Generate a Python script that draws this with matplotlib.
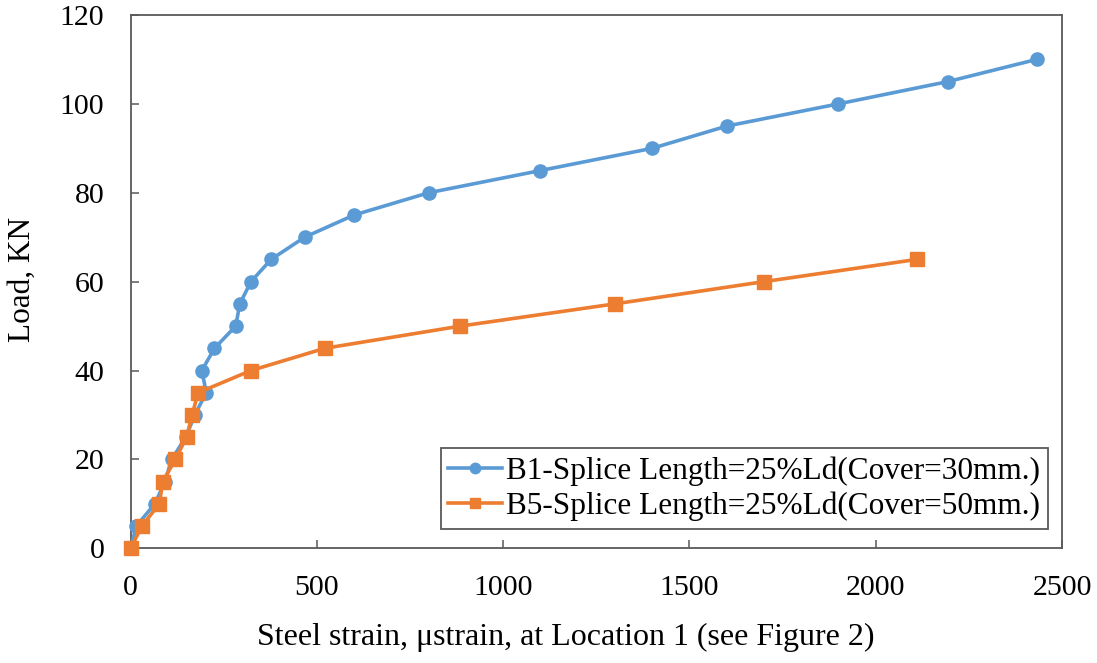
import matplotlib
matplotlib.use("Agg")
import matplotlib.pyplot as plt

plt.rcParams["font.family"] = ["Liberation Serif", "DejaVu Serif"]

# B1 - splice length 25% Ld, cover 30 mm
b1_strain = [0, 15, 65, 92, 110, 148, 172, 203, 191, 225, 282, 293, 323, 377, 467,
             600, 800, 1100, 1400, 1600, 1900, 2193, 2432]
b1_load = [0, 5, 10, 15, 20, 25, 30, 35, 40, 45, 50, 55, 60, 65, 70,
           75, 80, 85, 90, 95, 100, 105, 110]

# B5 - splice length 25% Ld, cover 50 mm
b5_strain = [0, 30, 77, 86, 120, 150, 165, 181, 323, 521, 885, 1300, 1700, 2110]
b5_load = [0, 5, 10, 15, 20, 25, 30, 35, 40, 45, 50, 55, 60, 65]

xticks = [0, 500, 1000, 1500, 2000, 2500]
yticks = [0, 20, 40, 60, 80, 100, 120]

blue = "#5B9BD5"
orange = "#ED7D31"
axis_col = "#595959"

fig = plt.figure(figsize=(10.97, 6.63), dpi=100)
ax = fig.add_axes([0.1191, 0.173, 0.849, 0.8044])

ax.plot(b1_strain, b1_load, color=blue, lw=2.6, marker="o", ms=9.5,
        label="B1-Splice Length=25%Ld(Cover=30mm.)", zorder=3)
ax.plot(b5_strain, b5_load, color=orange, lw=2.6, marker="s", ms=9.8,
        label="B5-Splice Length=25%Ld(Cover=50mm.)", zorder=4)

ax.set_xlim(0, 2500)
ax.set_ylim(0, 120)
ax.set_xticks(xticks)
ax.set_yticks(yticks)
for s in ax.spines.values():
    s.set_color(axis_col)
    s.set_linewidth(1.3)
ax.tick_params(direction="in", length=6, width=1.1, color=axis_col,
               labelsize=21.5, pad=19)
for line in ax.get_lines():
    line.set_clip_on(False)

ax.set_ylabel("Load, KN", fontsize=22.5)
ax.yaxis.set_label_coords(-0.101, 0.505)
ax.set_xlabel("Steel strain, \u03bcstrain, at Location 1 (see Figure 2)", fontsize=23)
ax.xaxis.set_label_coords(0.4674, -0.14)

leg = ax.legend(loc="lower right", bbox_to_anchor=(0.985, 0.036), fontsize=22.5,
                frameon=True, fancybox=False, handlelength=1.7, handletextpad=0.15,
                borderpad=0.25, labelspacing=0.2, borderaxespad=0.0)
leg.get_frame().set_edgecolor(axis_col)
leg.get_frame().set_linewidth(1.3)
leg.get_frame().set_alpha(1)
for h in leg.legend_handles:
    h.set_markersize(7.5)

fig.savefig("out.png", dpi=100)
